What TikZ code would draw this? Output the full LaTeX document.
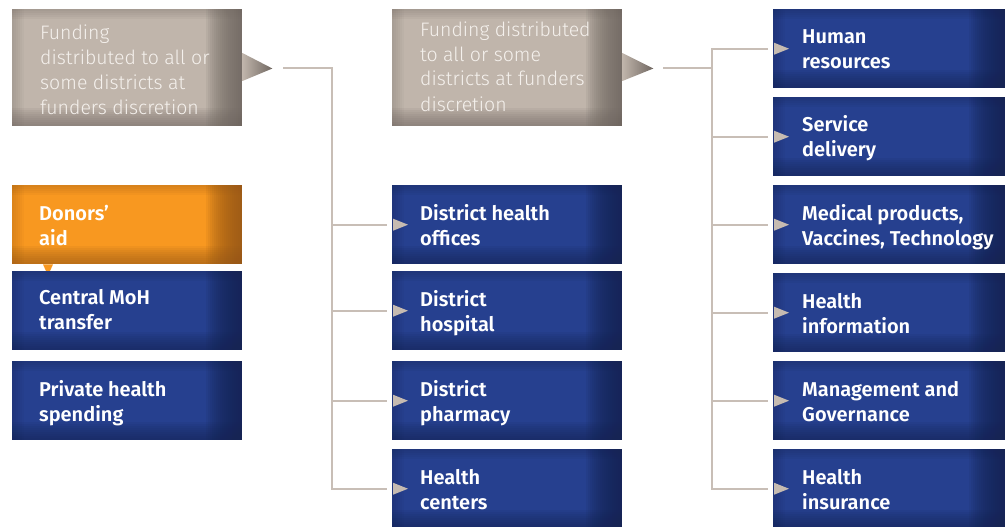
\documentclass[tikz,border=0pt]{standalone}
\usepackage{fontspec}
\setmainfont{Fira Sans}[BoldFont={Fira Sans SemiBold}]
\newfontfamily\lightfont{Fira Sans Light}

\definecolor{blueface}{RGB}{38,64,143}
\definecolor{blueedge}{RGB}{22,36,84}
\definecolor{orangeface}{RGB}{248,152,32}
\definecolor{orangeedge}{RGB}{150,88,22}
\definecolor{grayface}{RGB}{192,181,171}
\definecolor{grayedge}{RGB}{112,103,97}
\definecolor{linkgray}{RGB}{200,190,182}
\definecolor{tipgray}{RGB}{198,187,177}
\definecolor{greytext}{RGB}{245,241,237}

% soft inner shadows along the panel edges, built from stacked translucent strips
\newcommand\edgeglow[1]{%
  \foreach \i in {1,...,18}
    {\fill[#1, opacity=.1] ([xshift=-2*\i pt]path picture bounding box.north east) rectangle (path picture bounding box.south east);}
  \foreach \i in {1,...,9}
    {\fill[#1, opacity=.09] ([yshift=2*\i pt]path picture bounding box.south west) rectangle (path picture bounding box.south east);}
  \foreach \i in {1,...,5}
    {\fill[#1, opacity=.07] (path picture bounding box.north west) rectangle ([yshift=-2*\i pt]path picture bounding box.north east);}
  \foreach \i in {1,...,6}
    {\fill[#1, opacity=.05] (path picture bounding box.north west) rectangle ([xshift=2*\i pt]path picture bounding box.south west);}
}

% small entry triangle on the left side of a panel
\newcommand\entrytip[1]{%
  \fill[tipgray] ([xshift=1pt,yshift=6pt]#1.west) -- ([xshift=16pt]#1.west) -- ([xshift=1pt,yshift=-6pt]#1.west) -- cycle;}

\tikzset{
  panel/.style={rectangle, draw=none, inner sep=0pt, anchor=north west,
    minimum width=230pt, minimum height=79pt},
  bluebox/.style={panel, fill=blueface, path picture={\edgeglow{blueedge}}},
  orangebox/.style={panel, fill=orangeface, path picture={\edgeglow{orangeedge}}},
  graybox/.style={panel, minimum height=117pt, fill=grayface, path picture={\edgeglow{grayedge}}},
  widebox/.style={minimum width=232pt},
  btxt/.style={anchor=base west, align=left, inner sep=0pt, text=white,
    font=\fontsize{20}{25}\selectfont\bfseries},
  gtxt/.style={anchor=base west, align=left, inner sep=0pt, text=greytext,
    font=\lightfont\fontsize{19.5}{25}\selectfont},
  link/.style={draw=linkgray, line width=2pt},
}

\begin{document}
\begin{tikzpicture}[x=1pt, y=-1pt]
\useasboundingbox (0,0) rectangle (1005,527);

% ---- funding callouts ----
\node[graybox] (g1) at (12,9) {};
\node[graybox] (g2) at (392,9) {};
\shade[left color=grayface, right color=grayedge]
  ([yshift=-44pt]g1.north east) -- ([xshift=30pt,yshift=-59.5pt]g1.north east) -- ([yshift=-72pt]g1.north east) -- cycle;
\shade[left color=grayface, right color=grayedge]
  ([yshift=-44pt]g2.north east) -- ([xshift=31pt,yshift=-59.5pt]g2.north east) -- ([yshift=-72pt]g2.north east) -- cycle;
% the base anchor of a multi-line node sits on its last line
\node[gtxt] (g1t) at ([xshift=28pt,yshift=-105pt]g1.north west)
  {Funding\\distributed to all or\\some districts at\\funders discretion};
\node[gtxt] (g2t) at ([xshift=28pt,yshift=-102pt]g2.north west)
  {Funding distributed\\to all or some\\districts at funders\\discretion};

% ---- sources ----
\node[orangebox] (don) at (12,185) {};
\node[btxt] at ([xshift=27pt,yshift=-60pt]don.north west) {Donors’\\aid};
\fill[orangeface] ([xshift=31pt]don.south west) -- ([xshift=41pt]don.south west) -- ([xshift=36pt,yshift=-11pt]don.south west) -- cycle;
\node[bluebox] (moh) at (12,271) {};
\node[btxt] at ([xshift=27pt,yshift=-58pt]moh.north west) {Central MoH\\transfer};
\node[bluebox] (priv) at (12,361) {};
\node[btxt] at ([xshift=27pt,yshift=-60pt]priv.north west) {Private health\\spending};

% ---- district level ----
\node[bluebox] (dho) at (392,185) {};
\node[btxt] at ([xshift=28pt,yshift=-60pt]dho.north west) {District health\\offices};
\node[bluebox] (hosp) at (392,271) {};
\node[btxt] at ([xshift=28pt,yshift=-60pt]hosp.north west) {District\\hospital};
\node[bluebox] (pharm) at (392,361) {};
\node[btxt] at ([xshift=28pt,yshift=-60pt]pharm.north west) {District\\pharmacy};
\node[bluebox] (hc) at (392,449) {};
\node[btxt] at ([xshift=28pt,yshift=-60pt]hc.north west) {Health\\centers};

% ---- health system building blocks ----
\node[bluebox, widebox] (hr) at (773,9) {};
\node[btxt] at ([xshift=29pt,yshift=-60pt]hr.north west) {Human\\resources};
\node[bluebox, widebox] (sd) at (773,97) {};
\node[btxt] at ([xshift=29pt,yshift=-60pt]sd.north west) {Service\\delivery};
\node[bluebox, widebox] (med) at (773,185) {};
\node[btxt] at ([xshift=29pt,yshift=-60pt]med.north west) {Medical products,\\Vaccines, Technology};
\node[bluebox, widebox] (hi) at (773,273) {};
\node[btxt] at ([xshift=29pt,yshift=-60pt]hi.north west) {Health\\information};
\node[bluebox, widebox] (mg) at (773,361) {};
\node[btxt] at ([xshift=29pt,yshift=-60pt]mg.north west) {Management and\\Governance};
\node[bluebox, widebox] (ins) at (773,449) {};
\node[btxt] at ([xshift=29pt,yshift=-60pt]ins.north west) {Health\\insurance};

% ---- connectors ----
\coordinate (s1) at (283,68.5);
\coordinate (bus1) at (332,68.5);
\draw[link] (s1) -- (bus1) |- ([xshift=-5pt]hc.west);
\foreach \n in {dho,hosp,pharm}
  \draw[link] (bus1 |- \n.west) -- ([xshift=-5pt]\n.west);

\coordinate (s2) at (663,68.5);
\coordinate (bus2) at (712,68.5);
\draw[link] (s2) -- (bus2);
\draw[link] ([xshift=-5pt]hr.west) -| (bus2) |- ([xshift=-5pt]ins.west);
\foreach \n in {sd,med,hi,mg}
  \draw[link] (bus2 |- \n.west) -- ([xshift=-5pt]\n.west);

\foreach \n in {dho,hosp,pharm,hc,hr,sd,med,hi,mg,ins}
  {\entrytip{\n}}
\end{tikzpicture}
\end{document}
